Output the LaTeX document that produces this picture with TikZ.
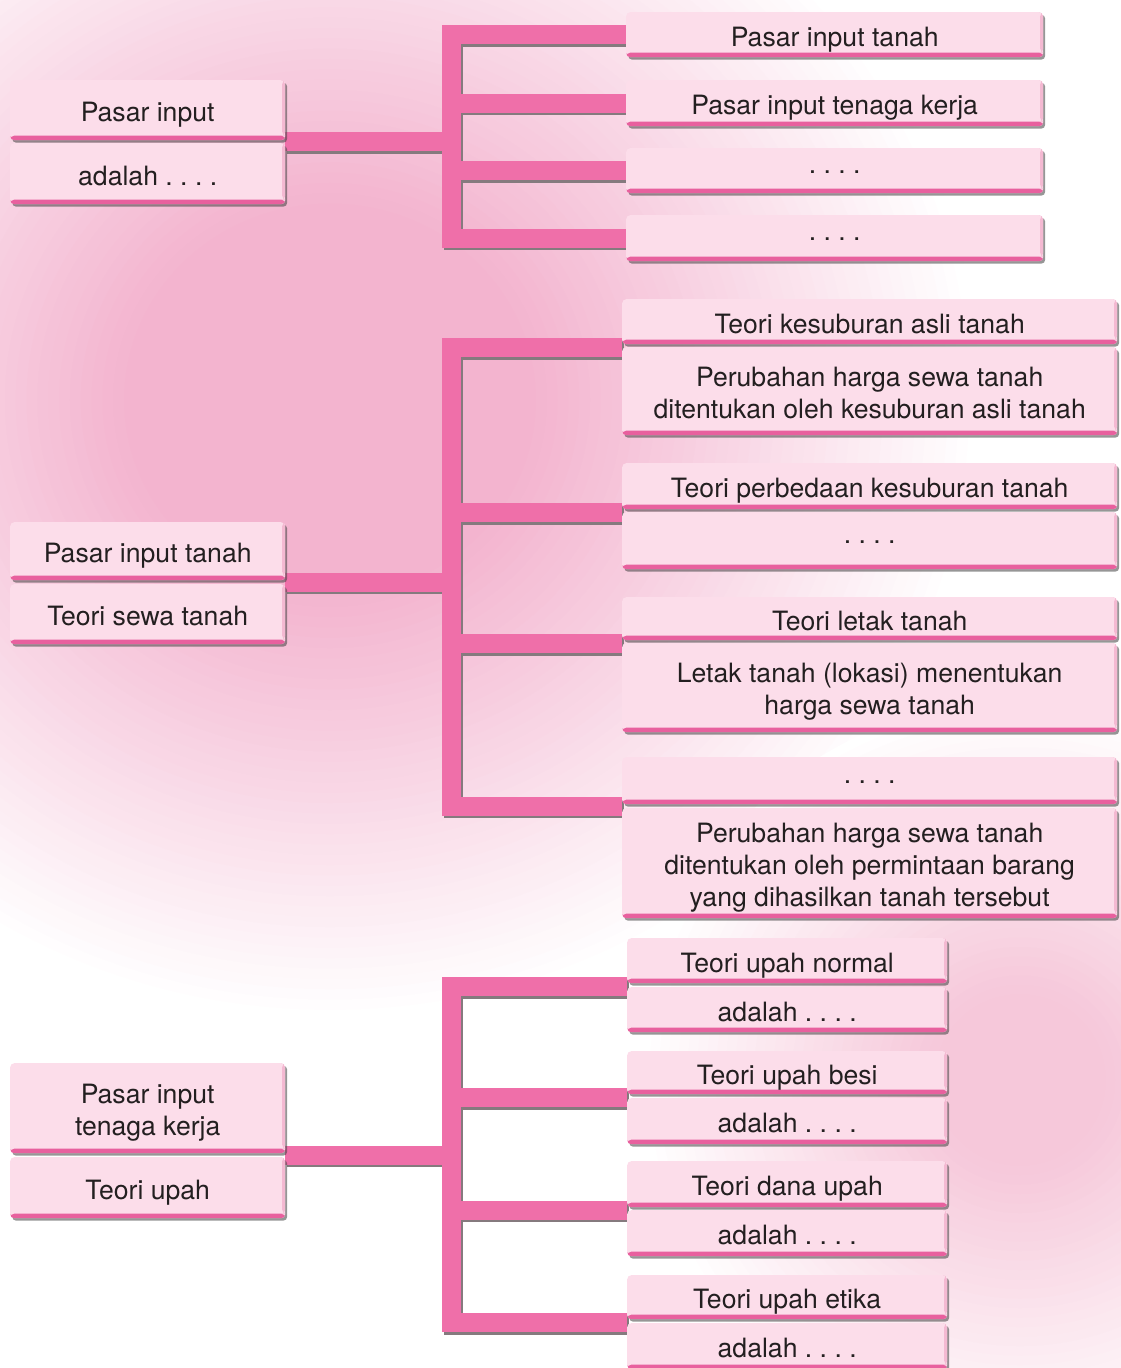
\documentclass[tikz,border=0pt]{standalone}
\usepackage{fontspec}
\setmainfont{TeX Gyre Heros}
\usetikzlibrary{calc,shadows}
\definecolor{boxfill}{HTML}{FCDDEA}
\definecolor{stripec}{HTML}{E8609E}
\definecolor{edgec}{HTML}{F4B9D2}
\definecolor{barc}{HTML}{EF6FA9}
\definecolor{barshadow}{HTML}{857A7E}
\definecolor{textc}{HTML}{231F20}
\definecolor{glowA}{HTML}{F3B4CF}
\definecolor{glowB}{HTML}{F6C8DA}
\pgfdeclarelayer{glowlayer}
\pgfdeclarelayer{barlayer}
\pgfsetlayers{glowlayer,barlayer,main}
\newcommand\tsx{\rule{0pt}{28pt}}
\newcommand\bsx{\rule[-6pt]{0pt}{6pt}}
\newcommand\allbars[1]{%
  \draw[#1] (l1) -- (l1 -| J);
  \draw[#1] (R1a.west) -- (R1a.west -| J) -- (R1d.west -| J) -- (R1d.west);
  \draw[#1] (R1b.west -| J) -- (R1b.west);
  \draw[#1] (R1c.west -| J) -- (R1c.west);
  \draw[#1] (l2) -- (l2 -| J);
  \draw[#1] (m12) -- (m12 -| J) -- (m78 -| J) -- (m78);
  \draw[#1] (m34 -| J) -- (m34);
  \draw[#1] (m56 -| J) -- (m56);
  \draw[#1] (l3) -- (l3 -| J);
  \draw[#1] (b12) -- (b12 -| J) -- (b78 -| J) -- (b78);
  \draw[#1] (b34 -| J) -- (b34);
  \draw[#1] (b56 -| J) -- (b56);
}
\tikzset{
  pbox/.style={anchor=north west, rounded corners=4pt, fill=boxfill, inner sep=0pt,
    font=\fontsize{26.6}{32}\selectfont\frenchspacing, text=textc, align=center,
    drop shadow={shadow xshift=2pt, shadow yshift=-2.5pt, opacity=.55, fill=black!75},
    path picture={
      \fill[edgec] ([xshift=-3pt]path picture bounding box.north east) rectangle ([yshift=4.5pt]path picture bounding box.south east);
      \fill[stripec] ([yshift=4.5pt]path picture bounding box.south west) rectangle (path picture bounding box.south east);
    }},
  one/.style={pbox, text height=23.5pt, text depth=0pt},
  dots/.style={pbox, text height=5pt, text depth=0pt},
  lw/.style={minimum width=275pt},
  rw/.style={minimum width=417pt},
  mw/.style={minimum width=495pt},
  bw/.style={minimum width=320pt},
  barsty/.style={draw=barc, line width=19pt, line join=miter},
  barshade/.style={draw=barshadow, line width=19pt, line join=miter, transform canvas={xshift=2pt, yshift=-2.5pt}},
}
\begin{document}
\begin{tikzpicture}[x=1pt,y=-1pt]
\useasboundingbox (0,0) rectangle (1120,1368);
\begin{pgfonlayer}{glowlayer}
  \foreach \i in {0,...,59}{
    \pgfmathsetmacro\rr{1-\i/60}
    \pgfmathsetmacro\pp{min(100,max(0,(1-\rr)/0.68*100))}
    \fill[glowA!\pp!white] (330,400) ellipse [x radius=\rr*650pt, y radius=\rr*620pt];
  }
  \foreach \i in {0,...,39}{
    \pgfmathsetmacro\rr{1-\i/40}
    \pgfmathsetmacro\pp{min(100,max(0,(1-\rr)/0.76*100))}
    \fill[glowB!\pp!white] (1020,1080) ellipse [x radius=\rr*380pt, y radius=\rr*380pt];
  }
\end{pgfonlayer}

% left boxes
\node[one, lw, minimum height=60pt] (L1a) at (10,80) {Pasar input};
\node[one, lw, minimum height=61pt] (L1b) at (10,143) {adalah . . . .};
\node[one, lw, minimum height=58pt] (L2a) at (10,522) {Pasar input tanah};
\node[one, lw, minimum height=60pt] (L2b) at (10,584) {Teori sewa tanah};
\node[pbox, lw, minimum height=90pt] (L3a) at (10,1063) {\tsx Pasar input\\tenaga kerja\bsx};
\node[one, lw, minimum height=61pt] (L3b) at (10,1157) {Teori upah};

% group 1 right boxes
\node[one, rw, minimum height=45pt] (R1a) at (626,12) {Pasar input tanah};
\node[one, rw, minimum height=46pt] (R1b) at (626,80) {Pasar input tenaga kerja};
\node[dots, rw, minimum height=45pt] (R1c) at (626,148) {. . . .};
\node[dots, rw, minimum height=46pt] (R1d) at (626,215) {. . . .};

% group 2 right boxes
\node[one, mw, minimum height=45pt] (M1) at (622,299) {Teori kesuburan asli tanah};
\node[pbox, mw, minimum height=88pt] (M2) at (622,347) {\tsx Perubahan harga sewa tanah\\ditentukan oleh kesuburan asli tanah\bsx};
\node[one, mw, minimum height=46pt] (M3) at (622,463) {Teori perbedaan kesuburan tanah};
\node[dots, mw, minimum height=57pt] (M4) at (622,512) {. . . .};
\node[one, mw, minimum height=43pt] (M5) at (622,597) {Teori letak tanah};
\node[pbox, mw, minimum height=89pt] (M6) at (622,643) {\tsx Letak tanah (lokasi) menentukan\\harga sewa tanah\bsx};
\node[dots, mw, minimum height=47pt] (M7) at (622,757) {. . . .};
\node[pbox, mw, minimum height=110pt] (M8) at (622,808) {\tsx Perubahan harga sewa tanah\\ditentukan oleh permintaan barang\\yang dihasilkan tanah tersebut\bsx};

% group 3 right boxes
\node[one, bw, minimum height=45pt] (B1) at (627,938) {Teori upah normal};
\node[one, bw, minimum height=45pt] (B2) at (627,987) {adalah . . . .};
\node[one, bw, minimum height=43pt] (B3) at (627,1051) {Teori upah besi};
\node[one, bw, minimum height=46pt] (B4) at (627,1098) {adalah . . . .};
\node[one, bw, minimum height=46pt] (B5) at (627,1161) {Teori dana upah};
\node[one, bw, minimum height=46pt] (B6) at (627,1210) {adalah . . . .};
\node[one, bw, minimum height=44pt] (B7) at (627,1275) {Teori upah etika};
\node[one, bw, minimum height=46pt] (B8) at (627,1323) {adalah . . . .};

% junction coordinates
\coordinate (J) at (451,0);
\coordinate (l1) at ($(L1a.south east)!.5!(L1b.north east)$);
\coordinate (l2) at ($(L2a.south east)!.5!(L2b.north east)$);
\coordinate (l3) at ($(L3a.south east)!.5!(L3b.north east)$);
\coordinate (m12) at ($(M1.south west)!.5!(M2.north west)+(0,2)$);
\coordinate (m34) at ($(M3.south west)!.5!(M4.north west)+(0,2)$);
\coordinate (m56) at ($(M5.south west)!.5!(M6.north west)+(0,2)$);
\coordinate (m78) at ($(M7.south west)!.5!(M8.north west)+(0,0)$);
\coordinate (b12) at ($(B1.south west)!.5!(B2.north west)+(0,1.5)$);
\coordinate (b34) at ($(B3.south west)!.5!(B4.north west)+(0,1.5)$);
\coordinate (b56) at ($(B5.south west)!.5!(B6.north west)+(0,1.5)$);
\coordinate (b78) at ($(B7.south west)!.5!(B8.north west)+(0,1.5)$);

\begin{pgfonlayer}{barlayer}
  \allbars{barshade}
  \allbars{barsty}
\end{pgfonlayer}
\end{tikzpicture}
\end{document}
